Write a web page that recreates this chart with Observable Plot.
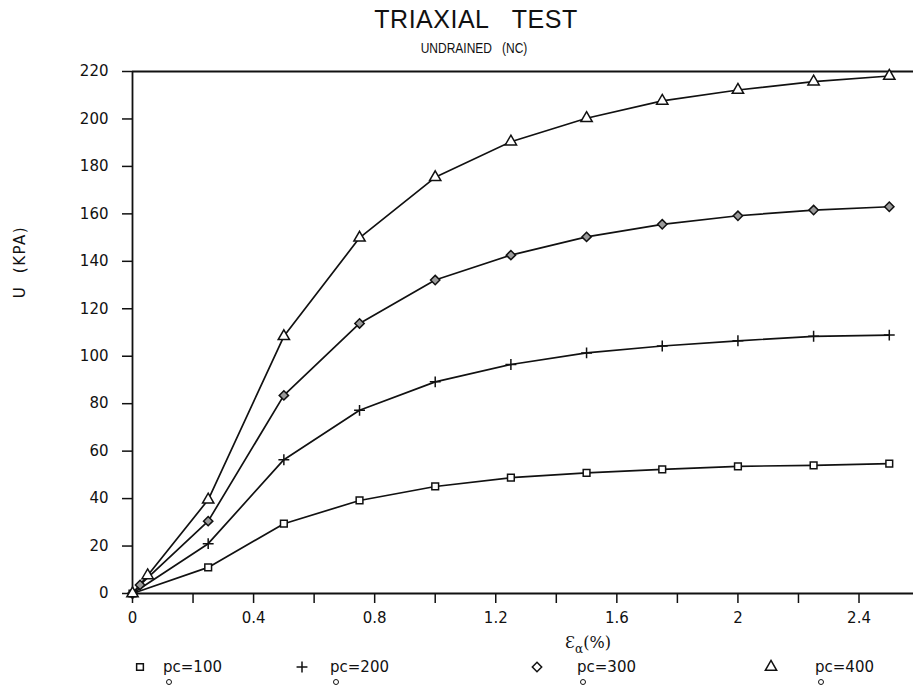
<!DOCTYPE html>
<html><head><meta charset="utf-8">
<script src="https://cdn.jsdelivr.net/npm/d3@7"></script>
<script src="https://cdn.jsdelivr.net/npm/@observablehq/plot@0.6"></script>
<style>
body{margin:0;background:#fff;}
#wrap{position:relative;width:913px;height:689px;overflow:hidden;font-family:"DejaVu Sans",sans-serif;color:#111;background:#fff;}
.abs{position:absolute;white-space:nowrap;line-height:1;}
#wrap svg.plot{position:absolute;left:0;top:0;}
</style></head><body><div id="wrap"></div>
<script>
// ---- data ----
const title = "TRIAXIAL\u00a0\u00a0\u00a0TEST";
const subtitle = "UNDRAINED\u00a0\u00a0\u00a0(NC)";
const yLabel = "U\u00a0\u00a0(KPA)";
const seriesNames = ["pc=100", "pc=200", "pc=300", "pc=400"];
const seriesSymbols = ["square", "plus", "diamond2", "triangle"];
const seriesFills = ["white", "none", "#9a9a9a", "white"];

const strain100 = [0, 0.25, 0.5, 0.75, 1.0, 1.25, 1.5, 1.75, 2.0, 2.25, 2.5];
const u100      = [0, 11, 29.4, 39.2, 45.1, 48.8, 50.8, 52.3, 53.6, 54.0, 54.7];
const strain200 = [0, 0.25, 0.5, 0.75, 1.0, 1.25, 1.5, 1.75, 2.0, 2.25, 2.5];
const u200      = [0, 21, 56.4, 77.2, 89.2, 96.5, 101.4, 104.3, 106.5, 108.4, 108.9];
const strain300 = [0, 0.025, 0.25, 0.5, 0.75, 1.0, 1.25, 1.5, 1.75, 2.0, 2.25, 2.5];
const u300      = [0, 3.6, 30.5, 83.5, 113.8, 132.1, 142.6, 150.3, 155.6, 159.2, 161.6, 163.0];
const strain400 = [0, 0.05, 0.25, 0.5, 0.75, 1.0, 1.25, 1.5, 1.75, 2.0, 2.25, 2.5];
const u400      = [0, 7.6, 39.5, 108.4, 149.9, 175.4, 190.4, 200.3, 207.6, 212.2, 215.7, 218.1];

const yTicks = [0, 20, 40, 60, 80, 100, 120, 140, 160, 180, 200, 220];
const xMinorTicks = [0, 0.2, 0.4, 0.6, 0.8, 1.0, 1.2, 1.4, 1.6, 1.8, 2.0, 2.2, 2.4];
const xMajorTicks = [0, 0.4, 0.8, 1.2, 1.6, 2.0, 2.4];
const xTickLabels = ["0", "0.4", "0.8", "1.2", "1.6", "2", "2.4"];

// ---- build table ----
const strains = [strain100, strain200, strain300, strain400];
const values = [u100, u200, u300, u400];
const rows = [];
seriesNames.forEach((s, i) => strains[i].forEach((x, j) => rows.push({series: s, strain: x, u: values[i][j]})));

const symbolR = {square: 3.8, plus: 3.6, diamond2: 4.2, triangle: 4.2};
const dotMarks = seriesNames.map((s, i) => Plot.dot(rows.filter(d => d.series === s), {
  x: "strain", y: "u", symbol: () => seriesSymbols[i],
  r: symbolR[seriesSymbols[i]],
  fill: seriesFills[i], stroke: "#111", strokeWidth: 1.5
}));

const plot = Plot.plot({
  width: 913, height: 689,
  marginTop: 71, marginBottom: 96, marginLeft: 132, marginRight: 0,
  style: {fontFamily: "DejaVu Sans, sans-serif", fontSize: "15px", color: "#111", background: "transparent", overflow: "visible"},
  x: {domain: [0, 2.58]},
  y: {domain: [0, 220]},
  symbol: {type: "identity"},
  marks: [
    Plot.axisY({ticks: yTicks, tickSize: 10, tickPadding: 14, label: null, strokeWidth: 1.5}),
    Plot.axisX({ticks: xMinorTicks, tickSize: 10, tickFormat: () => "", label: null, strokeWidth: 1.5}),
    Plot.axisX({ticks: xMajorTicks, tickSize: 0, tickPadding: 19, tickFormat: (d) => xTickLabels[xMajorTicks.indexOf(d)], label: null}),
    Plot.ruleX([0], {strokeWidth: 1.8, stroke: "#111"}),
    Plot.ruleY([0], {strokeWidth: 1.8, stroke: "#111"}),
    Plot.ruleY([220], {strokeWidth: 1.8, stroke: "#111"}),
    Plot.line(rows, {x: "strain", y: "u", z: "series", curve: "linear", stroke: "#111", strokeWidth: 1.7}),
    ...dotMarks
  ]
});
plot.classList.add("plot");
const wrap = document.getElementById("wrap");
wrap.appendChild(plot);

function addText(html, css) {
  const d = document.createElement("div");
  d.className = "abs";
  d.innerHTML = html;
  d.style.cssText += css;
  wrap.appendChild(d);
  return d;
}
// title & subtitle
addText(title, "left:476px;top:7px;transform:translateX(-50%);font-family:'Liberation Sans',sans-serif;font-size:25px;letter-spacing:0.5px;");
addText(subtitle, "left:474px;top:40px;transform:translateX(-50%) scaleX(0.8);font-family:'Liberation Sans',sans-serif;font-size:15px;");
// y label
addText(yLabel, "left:20px;top:262px;transform:translate(-50%,-50%) rotate(-90deg);font-size:15px;letter-spacing:1.5px;");
// x label
addText("\u0190<sub style='font-size:12px'>\u03b1</sub>(%)", "left:588px;top:645px;transform:translate(-50%,-50%);font-size:16px;font-family:'DejaVu Serif',serif;");

// legend
const legendSymbolX = [140, 302, 537, 771];
const legendTextX = [163, 330, 577, 815];
const d3Sym = {square: d3.symbolSquare, plus: d3.symbolPlus, diamond2: d3.symbolDiamond2, triangle: d3.symbolTriangle};
seriesNames.forEach((s, i) => {
  const r = symbolR[seriesSymbols[i]];
  const sym = d3.symbol(d3Sym[seriesSymbols[i]], Math.PI * r * r)();
  const svg = `<svg width="16" height="16" viewBox="-8 -8 16 16"><path d="${sym}" fill="${seriesFills[i] === "none" ? "#111" : "white"}" stroke="#111" stroke-width="1.5"/></svg>`;
  addText(svg, `left:${legendSymbolX[i] - 8}px;top:${667 - 8}px;`);
  addText(s, `left:${legendTextX[i]}px;top:667px;transform:translateY(-50%);font-size:15px;`);
  addText("", `left:${legendTextX[i] + 3}px;top:679px;width:4px;height:4px;border:1px solid #111;border-radius:50%;`);
});
</script>
</body></html>
